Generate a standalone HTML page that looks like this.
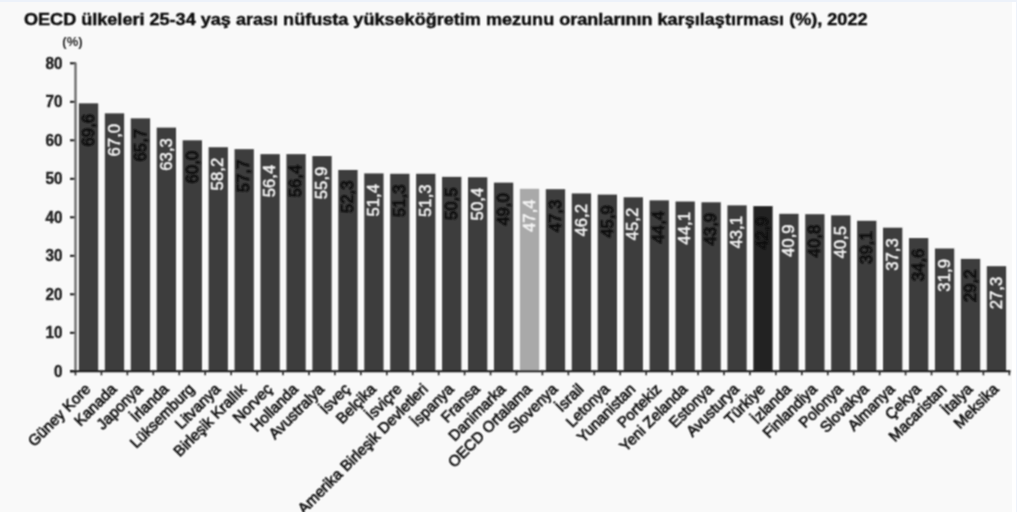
<!DOCTYPE html><html><head><meta charset="utf-8"><style>
html,body{margin:0;padding:0;width:1017px;height:512px;overflow:hidden;background:#fff}
svg{display:block;font-family:"Liberation Sans",sans-serif}
</style></head><body>
<svg width="1017" height="512" viewBox="0 0 1017 512">
<rect x="0" y="0" width="1017" height="512" fill="#ffffff"/>
<rect x="0" y="2" width="1012" height="510" fill="#f9f9f9"/>
<rect x="0" y="0" width="1017" height="2" fill="#edf2fa"/>
<rect x="1016" y="0" width="1" height="512" fill="#edf2fa"/>
<defs>
<filter id="fg" filterUnits="userSpaceOnUse" x="0" y="0" width="1017" height="512"><feConvolveMatrix order="3" kernelMatrix="1 2 1 2 4 2 1 2 1" edgeMode="none"/></filter>
<filter id="ft" filterUnits="userSpaceOnUse" x="0" y="0" width="1017" height="512"><feConvolveMatrix order="3" kernelMatrix="1 2 1 2 4 2 1 2 1" edgeMode="none"/></filter>
</defs>
<g filter="url(#fg)">
<line x1="70" y1="371.30" x2="76" y2="371.30" stroke="#1a1a1a" stroke-width="2"/>
<line x1="70" y1="332.80" x2="76" y2="332.80" stroke="#1a1a1a" stroke-width="2"/>
<line x1="70" y1="294.30" x2="76" y2="294.30" stroke="#1a1a1a" stroke-width="2"/>
<line x1="70" y1="255.80" x2="76" y2="255.80" stroke="#1a1a1a" stroke-width="2"/>
<line x1="70" y1="217.30" x2="76" y2="217.30" stroke="#1a1a1a" stroke-width="2"/>
<line x1="70" y1="178.80" x2="76" y2="178.80" stroke="#1a1a1a" stroke-width="2"/>
<line x1="70" y1="140.30" x2="76" y2="140.30" stroke="#1a1a1a" stroke-width="2"/>
<line x1="70" y1="101.80" x2="76" y2="101.80" stroke="#1a1a1a" stroke-width="2"/>
<line x1="70" y1="63.30" x2="76" y2="63.30" stroke="#1a1a1a" stroke-width="2"/>
<rect x="78.90" y="103.34" width="19.3" height="267.96" fill="#3d3d3d"/>
<rect x="104.84" y="113.35" width="19.3" height="257.95" fill="#3d3d3d"/>
<rect x="130.78" y="118.35" width="19.3" height="252.95" fill="#3d3d3d"/>
<rect x="156.72" y="127.60" width="19.3" height="243.70" fill="#3d3d3d"/>
<rect x="182.66" y="140.30" width="19.3" height="231.00" fill="#3d3d3d"/>
<rect x="208.60" y="147.23" width="19.3" height="224.07" fill="#3d3d3d"/>
<rect x="234.54" y="149.16" width="19.3" height="222.15" fill="#3d3d3d"/>
<rect x="260.48" y="154.16" width="19.3" height="217.14" fill="#3d3d3d"/>
<rect x="286.42" y="154.16" width="19.3" height="217.14" fill="#3d3d3d"/>
<rect x="312.36" y="156.09" width="19.3" height="215.22" fill="#3d3d3d"/>
<rect x="338.30" y="169.95" width="19.3" height="201.35" fill="#3d3d3d"/>
<rect x="364.24" y="173.41" width="19.3" height="197.89" fill="#3d3d3d"/>
<rect x="390.18" y="173.80" width="19.3" height="197.50" fill="#3d3d3d"/>
<rect x="416.12" y="173.80" width="19.3" height="197.50" fill="#3d3d3d"/>
<rect x="442.06" y="176.88" width="19.3" height="194.43" fill="#3d3d3d"/>
<rect x="468.00" y="177.26" width="19.3" height="194.04" fill="#3d3d3d"/>
<rect x="493.94" y="182.65" width="19.3" height="188.65" fill="#3d3d3d"/>
<rect x="519.88" y="188.81" width="19.3" height="182.49" fill="#a9a9a9"/>
<rect x="545.82" y="189.20" width="19.3" height="182.10" fill="#3d3d3d"/>
<rect x="571.76" y="193.43" width="19.3" height="177.87" fill="#3d3d3d"/>
<rect x="597.70" y="194.59" width="19.3" height="176.72" fill="#3d3d3d"/>
<rect x="623.64" y="197.28" width="19.3" height="174.02" fill="#3d3d3d"/>
<rect x="649.58" y="200.36" width="19.3" height="170.94" fill="#3d3d3d"/>
<rect x="675.52" y="201.52" width="19.3" height="169.78" fill="#3d3d3d"/>
<rect x="701.46" y="202.29" width="19.3" height="169.01" fill="#3d3d3d"/>
<rect x="727.40" y="205.37" width="19.3" height="165.94" fill="#3d3d3d"/>
<rect x="753.34" y="206.14" width="19.3" height="165.16" fill="#232323"/>
<rect x="779.28" y="213.84" width="19.3" height="157.47" fill="#3d3d3d"/>
<rect x="805.22" y="214.22" width="19.3" height="157.08" fill="#3d3d3d"/>
<rect x="831.16" y="215.38" width="19.3" height="155.93" fill="#3d3d3d"/>
<rect x="857.10" y="220.77" width="19.3" height="150.53" fill="#3d3d3d"/>
<rect x="883.04" y="227.70" width="19.3" height="143.60" fill="#3d3d3d"/>
<rect x="908.98" y="238.09" width="19.3" height="133.21" fill="#3d3d3d"/>
<rect x="934.92" y="248.49" width="19.3" height="122.81" fill="#3d3d3d"/>
<rect x="960.86" y="258.88" width="19.3" height="112.42" fill="#3d3d3d"/>
<rect x="986.80" y="266.19" width="19.3" height="105.11" fill="#3d3d3d"/>
<line x1="75.5" y1="62.80" x2="75.5" y2="371.30" stroke="#6e6e6e" stroke-width="2.4"/>
<line x1="70" y1="371.30" x2="1010.5" y2="371.30" stroke="#1a1a1a" stroke-width="2"/>
<line x1="75.50" y1="371.30" x2="75.50" y2="375.30" stroke="#222" stroke-width="1.6"/>
<line x1="101.44" y1="371.30" x2="101.44" y2="375.30" stroke="#222" stroke-width="1.6"/>
<line x1="127.38" y1="371.30" x2="127.38" y2="375.30" stroke="#222" stroke-width="1.6"/>
<line x1="153.32" y1="371.30" x2="153.32" y2="375.30" stroke="#222" stroke-width="1.6"/>
<line x1="179.26" y1="371.30" x2="179.26" y2="375.30" stroke="#222" stroke-width="1.6"/>
<line x1="205.20" y1="371.30" x2="205.20" y2="375.30" stroke="#222" stroke-width="1.6"/>
<line x1="231.14" y1="371.30" x2="231.14" y2="375.30" stroke="#222" stroke-width="1.6"/>
<line x1="257.08" y1="371.30" x2="257.08" y2="375.30" stroke="#222" stroke-width="1.6"/>
<line x1="283.02" y1="371.30" x2="283.02" y2="375.30" stroke="#222" stroke-width="1.6"/>
<line x1="308.96" y1="371.30" x2="308.96" y2="375.30" stroke="#222" stroke-width="1.6"/>
<line x1="334.90" y1="371.30" x2="334.90" y2="375.30" stroke="#222" stroke-width="1.6"/>
<line x1="360.84" y1="371.30" x2="360.84" y2="375.30" stroke="#222" stroke-width="1.6"/>
<line x1="386.78" y1="371.30" x2="386.78" y2="375.30" stroke="#222" stroke-width="1.6"/>
<line x1="412.72" y1="371.30" x2="412.72" y2="375.30" stroke="#222" stroke-width="1.6"/>
<line x1="438.66" y1="371.30" x2="438.66" y2="375.30" stroke="#222" stroke-width="1.6"/>
<line x1="464.60" y1="371.30" x2="464.60" y2="375.30" stroke="#222" stroke-width="1.6"/>
<line x1="490.54" y1="371.30" x2="490.54" y2="375.30" stroke="#222" stroke-width="1.6"/>
<line x1="516.48" y1="371.30" x2="516.48" y2="375.30" stroke="#222" stroke-width="1.6"/>
<line x1="542.42" y1="371.30" x2="542.42" y2="375.30" stroke="#222" stroke-width="1.6"/>
<line x1="568.36" y1="371.30" x2="568.36" y2="375.30" stroke="#222" stroke-width="1.6"/>
<line x1="594.30" y1="371.30" x2="594.30" y2="375.30" stroke="#222" stroke-width="1.6"/>
<line x1="620.24" y1="371.30" x2="620.24" y2="375.30" stroke="#222" stroke-width="1.6"/>
<line x1="646.18" y1="371.30" x2="646.18" y2="375.30" stroke="#222" stroke-width="1.6"/>
<line x1="672.12" y1="371.30" x2="672.12" y2="375.30" stroke="#222" stroke-width="1.6"/>
<line x1="698.06" y1="371.30" x2="698.06" y2="375.30" stroke="#222" stroke-width="1.6"/>
<line x1="724.00" y1="371.30" x2="724.00" y2="375.30" stroke="#222" stroke-width="1.6"/>
<line x1="749.94" y1="371.30" x2="749.94" y2="375.30" stroke="#222" stroke-width="1.6"/>
<line x1="775.88" y1="371.30" x2="775.88" y2="375.30" stroke="#222" stroke-width="1.6"/>
<line x1="801.82" y1="371.30" x2="801.82" y2="375.30" stroke="#222" stroke-width="1.6"/>
<line x1="827.76" y1="371.30" x2="827.76" y2="375.30" stroke="#222" stroke-width="1.6"/>
<line x1="853.70" y1="371.30" x2="853.70" y2="375.30" stroke="#222" stroke-width="1.6"/>
<line x1="879.64" y1="371.30" x2="879.64" y2="375.30" stroke="#222" stroke-width="1.6"/>
<line x1="905.58" y1="371.30" x2="905.58" y2="375.30" stroke="#222" stroke-width="1.6"/>
<line x1="931.52" y1="371.30" x2="931.52" y2="375.30" stroke="#222" stroke-width="1.6"/>
<line x1="957.46" y1="371.30" x2="957.46" y2="375.30" stroke="#222" stroke-width="1.6"/>
<line x1="983.40" y1="371.30" x2="983.40" y2="375.30" stroke="#222" stroke-width="1.6"/>
<line x1="1009.34" y1="371.30" x2="1009.34" y2="375.30" stroke="#222" stroke-width="1.6"/>
</g>
<g filter="url(#ft)">
<text transform="translate(93.75,113.84) rotate(-90)" font-size="16.8" fill="#111" stroke="#111" stroke-width="1.0" text-anchor="end">69,6</text>
<text transform="translate(119.69,123.85) rotate(-90)" font-size="16.8" fill="#f4f4f4" stroke="#f4f4f4" stroke-width="0.5" text-anchor="end">67,0</text>
<text transform="translate(145.63,128.85) rotate(-90)" font-size="16.8" fill="#111" stroke="#111" stroke-width="1.0" text-anchor="end">65,7</text>
<text transform="translate(171.57,138.10) rotate(-90)" font-size="16.8" fill="#f4f4f4" stroke="#f4f4f4" stroke-width="0.5" text-anchor="end">63,3</text>
<text transform="translate(197.51,150.80) rotate(-90)" font-size="16.8" fill="#111" stroke="#111" stroke-width="1.0" text-anchor="end">60,0</text>
<text transform="translate(223.45,157.73) rotate(-90)" font-size="16.8" fill="#f4f4f4" stroke="#f4f4f4" stroke-width="0.5" text-anchor="end">58,2</text>
<text transform="translate(249.39,159.66) rotate(-90)" font-size="16.8" fill="#111" stroke="#111" stroke-width="1.0" text-anchor="end">57,7</text>
<text transform="translate(275.33,164.66) rotate(-90)" font-size="16.8" fill="#f4f4f4" stroke="#f4f4f4" stroke-width="0.5" text-anchor="end">56,4</text>
<text transform="translate(301.27,164.66) rotate(-90)" font-size="16.8" fill="#111" stroke="#111" stroke-width="1.0" text-anchor="end">56,4</text>
<text transform="translate(327.21,166.59) rotate(-90)" font-size="16.8" fill="#f4f4f4" stroke="#f4f4f4" stroke-width="0.5" text-anchor="end">55,9</text>
<text transform="translate(353.15,180.45) rotate(-90)" font-size="16.8" fill="#111" stroke="#111" stroke-width="1.0" text-anchor="end">52,3</text>
<text transform="translate(379.09,183.91) rotate(-90)" font-size="16.8" fill="#f4f4f4" stroke="#f4f4f4" stroke-width="0.5" text-anchor="end">51,4</text>
<text transform="translate(405.03,184.30) rotate(-90)" font-size="16.8" fill="#111" stroke="#111" stroke-width="1.0" text-anchor="end">51,3</text>
<text transform="translate(430.97,184.30) rotate(-90)" font-size="16.8" fill="#f4f4f4" stroke="#f4f4f4" stroke-width="0.5" text-anchor="end">51,3</text>
<text transform="translate(456.91,187.38) rotate(-90)" font-size="16.8" fill="#111" stroke="#111" stroke-width="1.0" text-anchor="end">50,5</text>
<text transform="translate(482.85,187.76) rotate(-90)" font-size="16.8" fill="#f4f4f4" stroke="#f4f4f4" stroke-width="0.5" text-anchor="end">50,4</text>
<text transform="translate(508.79,193.15) rotate(-90)" font-size="16.8" fill="#111" stroke="#111" stroke-width="1.0" text-anchor="end">49,0</text>
<text transform="translate(534.73,199.31) rotate(-90)" font-size="16.8" fill="#f4f4f4" stroke="#f4f4f4" stroke-width="0.5" text-anchor="end">47,4</text>
<text transform="translate(560.67,199.70) rotate(-90)" font-size="16.8" fill="#111" stroke="#111" stroke-width="1.0" text-anchor="end">47,3</text>
<text transform="translate(586.61,203.93) rotate(-90)" font-size="16.8" fill="#f4f4f4" stroke="#f4f4f4" stroke-width="0.5" text-anchor="end">46,2</text>
<text transform="translate(612.55,205.09) rotate(-90)" font-size="16.8" fill="#111" stroke="#111" stroke-width="1.0" text-anchor="end">45,9</text>
<text transform="translate(638.49,207.78) rotate(-90)" font-size="16.8" fill="#f4f4f4" stroke="#f4f4f4" stroke-width="0.5" text-anchor="end">45,2</text>
<text transform="translate(664.43,210.86) rotate(-90)" font-size="16.8" fill="#111" stroke="#111" stroke-width="1.0" text-anchor="end">44,4</text>
<text transform="translate(690.37,212.02) rotate(-90)" font-size="16.8" fill="#f4f4f4" stroke="#f4f4f4" stroke-width="0.5" text-anchor="end">44,1</text>
<text transform="translate(716.31,212.79) rotate(-90)" font-size="16.8" fill="#111" stroke="#111" stroke-width="1.0" text-anchor="end">43,9</text>
<text transform="translate(742.25,215.87) rotate(-90)" font-size="16.8" fill="#f4f4f4" stroke="#f4f4f4" stroke-width="0.5" text-anchor="end">43,1</text>
<text transform="translate(768.19,216.64) rotate(-90)" font-size="16.8" fill="#111" stroke="#111" stroke-width="1.0" text-anchor="end">42,9</text>
<text transform="translate(794.13,224.34) rotate(-90)" font-size="16.8" fill="#f4f4f4" stroke="#f4f4f4" stroke-width="0.5" text-anchor="end">40,9</text>
<text transform="translate(820.07,224.72) rotate(-90)" font-size="16.8" fill="#111" stroke="#111" stroke-width="1.0" text-anchor="end">40,8</text>
<text transform="translate(846.01,225.88) rotate(-90)" font-size="16.8" fill="#f4f4f4" stroke="#f4f4f4" stroke-width="0.5" text-anchor="end">40,5</text>
<text transform="translate(871.95,231.27) rotate(-90)" font-size="16.8" fill="#111" stroke="#111" stroke-width="1.0" text-anchor="end">39,1</text>
<text transform="translate(897.89,238.20) rotate(-90)" font-size="16.8" fill="#f4f4f4" stroke="#f4f4f4" stroke-width="0.5" text-anchor="end">37,3</text>
<text transform="translate(923.83,248.59) rotate(-90)" font-size="16.8" fill="#111" stroke="#111" stroke-width="1.0" text-anchor="end">34,6</text>
<text transform="translate(949.77,258.99) rotate(-90)" font-size="16.8" fill="#f4f4f4" stroke="#f4f4f4" stroke-width="0.5" text-anchor="end">31,9</text>
<text transform="translate(975.71,269.38) rotate(-90)" font-size="16.8" fill="#111" stroke="#111" stroke-width="1.0" text-anchor="end">29,2</text>
<text transform="translate(1001.65,276.69) rotate(-90)" font-size="16.8" fill="#f4f4f4" stroke="#f4f4f4" stroke-width="0.5" text-anchor="end">27,3</text>
</g>
<g filter="url(#ft)">
<text transform="translate(24,25.3) scale(1,0.9)" font-size="18.09" font-weight="bold" fill="#111" stroke="#111" stroke-width="0.5">OECD ülkeleri 25-34 yaş arası nüfusta yükseköğretim mezunu oranlarının karşılaştırması (%), 2022</text>
<text x="62.3" y="45.8" font-size="13" font-weight="bold" fill="#2a2a2a">(%)</text>
<text transform="translate(62.4,376.80) scale(0.9,1)" font-size="17" font-weight="bold" fill="#222" stroke="#222" stroke-width="0.4" text-anchor="end">0</text>
<text transform="translate(62.4,338.30) scale(0.9,1)" font-size="17" font-weight="bold" fill="#222" stroke="#222" stroke-width="0.4" text-anchor="end">10</text>
<text transform="translate(62.4,299.80) scale(0.9,1)" font-size="17" font-weight="bold" fill="#222" stroke="#222" stroke-width="0.4" text-anchor="end">20</text>
<text transform="translate(62.4,261.30) scale(0.9,1)" font-size="17" font-weight="bold" fill="#222" stroke="#222" stroke-width="0.4" text-anchor="end">30</text>
<text transform="translate(62.4,222.80) scale(0.9,1)" font-size="17" font-weight="bold" fill="#222" stroke="#222" stroke-width="0.4" text-anchor="end">40</text>
<text transform="translate(62.4,184.30) scale(0.9,1)" font-size="17" font-weight="bold" fill="#222" stroke="#222" stroke-width="0.4" text-anchor="end">50</text>
<text transform="translate(62.4,145.80) scale(0.9,1)" font-size="17" font-weight="bold" fill="#222" stroke="#222" stroke-width="0.4" text-anchor="end">60</text>
<text transform="translate(62.4,107.30) scale(0.9,1)" font-size="17" font-weight="bold" fill="#222" stroke="#222" stroke-width="0.4" text-anchor="end">70</text>
<text transform="translate(62.4,68.80) scale(0.9,1)" font-size="17" font-weight="bold" fill="#222" stroke="#222" stroke-width="0.4" text-anchor="end">80</text>
<text transform="translate(91.55,390.00) rotate(-45)" font-size="15.2" fill="#111" stroke="#111" stroke-width="0.65" text-anchor="end">Güney Kore</text>
<text transform="translate(117.49,390.00) rotate(-45)" font-size="15.2" fill="#111" stroke="#111" stroke-width="0.65" text-anchor="end">Kanada</text>
<text transform="translate(143.43,390.00) rotate(-45)" font-size="15.2" fill="#111" stroke="#111" stroke-width="0.65" text-anchor="end">Japonya</text>
<text transform="translate(169.37,390.00) rotate(-45)" font-size="15.2" fill="#111" stroke="#111" stroke-width="0.65" text-anchor="end">İrlanda</text>
<text transform="translate(195.31,390.00) rotate(-45)" font-size="15.2" fill="#111" stroke="#111" stroke-width="0.65" text-anchor="end">Lüksemburg</text>
<text transform="translate(221.25,390.00) rotate(-45)" font-size="15.2" fill="#111" stroke="#111" stroke-width="0.65" text-anchor="end">Litvanya</text>
<text transform="translate(247.19,390.00) rotate(-45)" font-size="15.2" fill="#111" stroke="#111" stroke-width="0.65" text-anchor="end">Birleşik Krallık</text>
<text transform="translate(273.13,390.00) rotate(-45)" font-size="15.2" fill="#111" stroke="#111" stroke-width="0.65" text-anchor="end">Norveç</text>
<text transform="translate(299.07,390.00) rotate(-45)" font-size="15.2" fill="#111" stroke="#111" stroke-width="0.65" text-anchor="end">Hollanda</text>
<text transform="translate(325.01,390.00) rotate(-45)" font-size="15.2" fill="#111" stroke="#111" stroke-width="0.65" text-anchor="end">Avustralya</text>
<text transform="translate(350.95,390.00) rotate(-45)" font-size="15.2" fill="#111" stroke="#111" stroke-width="0.65" text-anchor="end">İsveç</text>
<text transform="translate(376.89,390.00) rotate(-45)" font-size="15.2" fill="#111" stroke="#111" stroke-width="0.65" text-anchor="end">Belçika</text>
<text transform="translate(402.83,390.00) rotate(-45)" font-size="15.2" fill="#111" stroke="#111" stroke-width="0.65" text-anchor="end">İsviçre</text>
<text transform="translate(428.77,390.00) rotate(-45)" font-size="15.2" fill="#111" stroke="#111" stroke-width="0.65" text-anchor="end">Amerika Birleşik Devletleri</text>
<text transform="translate(454.71,390.00) rotate(-45)" font-size="15.2" fill="#111" stroke="#111" stroke-width="0.65" text-anchor="end">İspanya</text>
<text transform="translate(480.65,390.00) rotate(-45)" font-size="15.2" fill="#111" stroke="#111" stroke-width="0.65" text-anchor="end">Fransa</text>
<text transform="translate(506.59,390.00) rotate(-45)" font-size="15.2" fill="#111" stroke="#111" stroke-width="0.65" text-anchor="end">Danimarka</text>
<text transform="translate(532.53,390.00) rotate(-45)" font-size="15.2" fill="#111" stroke="#111" stroke-width="0.65" text-anchor="end">OECD Ortalama</text>
<text transform="translate(558.47,390.00) rotate(-45)" font-size="15.2" fill="#111" stroke="#111" stroke-width="0.65" text-anchor="end">Slovenya</text>
<text transform="translate(584.41,390.00) rotate(-45)" font-size="15.2" fill="#111" stroke="#111" stroke-width="0.65" text-anchor="end">İsrail</text>
<text transform="translate(610.35,390.00) rotate(-45)" font-size="15.2" fill="#111" stroke="#111" stroke-width="0.65" text-anchor="end">Letonya</text>
<text transform="translate(636.29,390.00) rotate(-45)" font-size="15.2" fill="#111" stroke="#111" stroke-width="0.65" text-anchor="end">Yunanistan</text>
<text transform="translate(662.23,390.00) rotate(-45)" font-size="15.2" fill="#111" stroke="#111" stroke-width="0.65" text-anchor="end">Portekiz</text>
<text transform="translate(688.17,390.00) rotate(-45)" font-size="15.2" fill="#111" stroke="#111" stroke-width="0.65" text-anchor="end">Yeni Zelanda</text>
<text transform="translate(714.11,390.00) rotate(-45)" font-size="15.2" fill="#111" stroke="#111" stroke-width="0.65" text-anchor="end">Estonya</text>
<text transform="translate(740.05,390.00) rotate(-45)" font-size="15.2" fill="#111" stroke="#111" stroke-width="0.65" text-anchor="end">Avusturya</text>
<text transform="translate(765.99,390.00) rotate(-45)" font-size="15.2" fill="#111" stroke="#111" stroke-width="0.65" text-anchor="end">Türkiye</text>
<text transform="translate(791.93,390.00) rotate(-45)" font-size="15.2" fill="#111" stroke="#111" stroke-width="0.65" text-anchor="end">İzlanda</text>
<text transform="translate(817.87,390.00) rotate(-45)" font-size="15.2" fill="#111" stroke="#111" stroke-width="0.65" text-anchor="end">Finlandiya</text>
<text transform="translate(843.81,390.00) rotate(-45)" font-size="15.2" fill="#111" stroke="#111" stroke-width="0.65" text-anchor="end">Polonya</text>
<text transform="translate(869.75,390.00) rotate(-45)" font-size="15.2" fill="#111" stroke="#111" stroke-width="0.65" text-anchor="end">Slovakya</text>
<text transform="translate(895.69,390.00) rotate(-45)" font-size="15.2" fill="#111" stroke="#111" stroke-width="0.65" text-anchor="end">Almanya</text>
<text transform="translate(921.63,390.00) rotate(-45)" font-size="15.2" fill="#111" stroke="#111" stroke-width="0.65" text-anchor="end">Çekya</text>
<text transform="translate(947.57,390.00) rotate(-45)" font-size="15.2" fill="#111" stroke="#111" stroke-width="0.65" text-anchor="end">Macaristan</text>
<text transform="translate(973.51,390.00) rotate(-45)" font-size="15.2" fill="#111" stroke="#111" stroke-width="0.65" text-anchor="end">İtalya</text>
<text transform="translate(999.45,390.00) rotate(-45)" font-size="15.2" fill="#111" stroke="#111" stroke-width="0.65" text-anchor="end">Meksika</text>
</g>
</svg></body></html>
